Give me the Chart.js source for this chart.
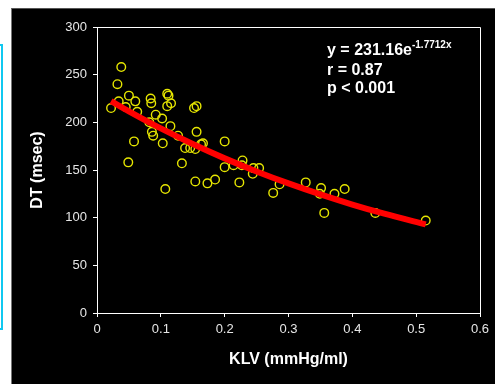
<!DOCTYPE html>
<html>
<head>
<meta charset="utf-8">
<script src="https://cdn.jsdelivr.net/npm/chart.js@4/dist/chart.umd.min.js"></script>
<style>
  html, body { margin: 0; padding: 0; background: #ffffff; width: 495px; height: 384px; overflow: hidden; }
  #bg { position: absolute; left: 11px; top: 8px; width: 484px; height: 376px; background: #000; border-left: 1px solid #777; border-top: 1px solid #555; box-sizing: border-box; }
  #cyan { position: absolute; left: -9px; top: 44px; width: 12px; height: 286px; border: 2px solid #10c8f0; box-sizing: border-box; background: #fff; }
  #wrap { position: absolute; left: 0; top: 0; width: 495px; height: 384px; }
  #note { position: absolute; left: 327px; top: 41px; color: #fff; font: bold 16px "Liberation Sans", Arial, sans-serif; line-height: 18px; white-space: nowrap; }
  #note sup { font-size: 10px; vertical-align: baseline; position: relative; top: -7px; }
</style>
</head>
<body>
<div id="cyan"></div>
<div id="bg"></div>
<div id="wrap"><canvas id="c" width="495" height="384"></canvas></div>
<div id="note">y = 231.16e<sup>-1.7712x</sup><br>r = 0.87<br>p &lt; 0.001</div>
<script>
// Observed points: KLV (mmHg/ml) vs DT (msec)
const klv = [0.038, 0.032, 0.050, 0.060, 0.034, 0.022, 0.045, 0.063, 0.084, 0.085,
             0.110, 0.112, 0.116, 0.110, 0.152, 0.156, 0.092, 0.102, 0.082, 0.115,
             0.086, 0.088, 0.058, 0.103, 0.127, 0.156, 0.138, 0.146, 0.154, 0.163,
             0.166, 0.200, 0.049, 0.133, 0.200, 0.214, 0.228, 0.227, 0.245, 0.254,
             0.107, 0.154, 0.173, 0.185, 0.223, 0.244, 0.276, 0.286, 0.327, 0.351,
             0.349, 0.372, 0.388, 0.356, 0.436, 0.515];
const dt  = [258, 240, 228, 222, 222, 215, 216, 211, 225, 220,
             230, 228, 220, 217, 215, 217, 208, 204, 200, 196,
             190, 186, 180, 178, 186, 190, 173, 173, 172, 177,
             178, 180, 158, 157, 153, 155, 160, 155, 152, 152,
             130, 138, 136, 140, 137, 146, 126, 135, 137, 131,
             125, 125, 130, 105, 105, 97];
// Fitted curve (y = 231.16e^-1.7712x)
const trendX = [0.022, 0.05, 0.10, 0.15, 0.20, 0.25, 0.30, 0.35, 0.40, 0.45, 0.515];
const trendY = [222.3, 211.6, 193.6, 177.2, 162.2, 148.5, 135.9, 124.4, 113.8, 104.2, 92.9];
// Tick labels
const xTickLabels = ['0', '0.1', '0.2', '0.3', '0.4', '0.5', '0.6'];
const yTickLabels = ['0', '50', '100', '150', '200', '250', '300'];

const points = klv.map((x, i) => ({ x: x, y: dt[i] }));
const trend = trendX.map((x, i) => ({ x: x, y: trendY[i] }));

const frame = {
  id: 'frame',
  afterDatasetsDraw(chart) {
    const a = chart.chartArea, ctx = chart.ctx;
    ctx.save();
    ctx.strokeStyle = '#ffffff';
    ctx.lineWidth = 1;
    ctx.beginPath();
    ctx.moveTo(a.left, a.top + 0.5);
    ctx.lineTo(a.right + 0.5, a.top + 0.5);
    ctx.lineTo(a.right + 0.5, a.bottom);
    ctx.stroke();
    ctx.restore();
  }
};

const tickFont = { family: '"Liberation Sans", Arial, sans-serif', size: 13 };
const titleFont = { family: '"Liberation Sans", Arial, sans-serif', size: 16, weight: 'bold' };

new Chart(document.getElementById('c'), {
  type: 'scatter',
  data: {
    datasets: [
      { label: 'fit', data: trend, showLine: true, borderColor: '#ff0000', borderWidth: 6,
        pointRadius: 0, tension: 0.3, fill: false, order: 0, borderCapStyle: 'butt' },
      { label: 'DT', data: points, pointRadius: 4.3, pointBorderWidth: 1.4,
        borderColor: '#e6e600', backgroundColor: 'rgba(0,0,0,0)', pointBackgroundColor: 'rgba(0,0,0,0)',
        pointBorderColor: '#e6e600', order: 1 }
    ]
  },
  options: {
    responsive: false,
    animation: false,
    devicePixelRatio: 1,
    layout: { padding: { left: 0, right: 15, top: 27, bottom: 0 } },
    plugins: { legend: { display: false }, tooltip: { enabled: false } },
    scales: {
      x: {
        type: 'linear', min: 0, max: 0.6,
        afterFit(s) { s.height = 71; },
        ticks: { stepSize: 0.1, color: '#e6e6e6', font: tickFont, padding: 5,
                 callback: (v, i) => xTickLabels[i] },
        grid: { drawOnChartArea: false, drawTicks: true, tickLength: 4, color: '#ffffff' },
        border: { color: '#ffffff', width: 1 },
        title: { display: true, text: 'KLV (mmHg/ml)', color: '#ffffff', font: titleFont,
                 padding: { top: 0, bottom: 15 } }
      },
      y: {
        type: 'linear', min: 0, max: 300,
        afterFit(s) { s.width = 97; },
        ticks: { stepSize: 50, color: '#e6e6e6', font: tickFont, padding: 6,
                 callback: (v, i) => yTickLabels[i] },
        grid: { drawOnChartArea: false, drawTicks: true, tickLength: 4, color: '#ffffff' },
        border: { color: '#ffffff', width: 1 },
        title: { display: true, text: 'DT (msec)', color: '#ffffff', font: titleFont,
                 padding: { top: 28, bottom: 0 } }
      }
    }
  },
  plugins: [frame]
});
</script>
</body>
</html>
